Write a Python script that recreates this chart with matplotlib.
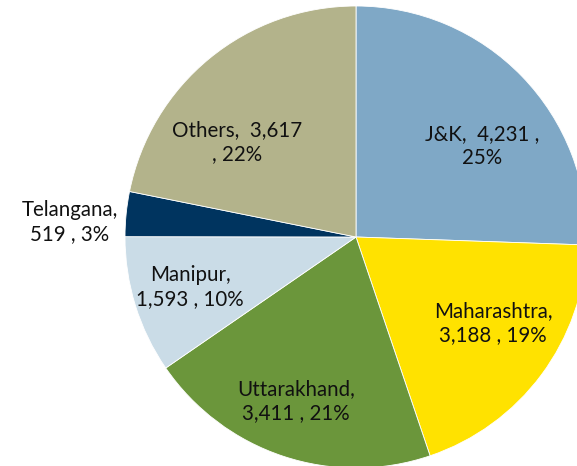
import matplotlib
matplotlib.use("Agg")
import matplotlib.pyplot as plt

states = ["J&K", "Maharashtra", "Uttarakhand", "Manipur", "Telangana", "Others"]
values = [4231, 3188, 3411, 1593, 519, 3617]
percents = ["25%", "19%", "21%", "10%", "3%", "22%"]
colors = ["#7FA8C6", "#FFE200", "#6B963B", "#CADCE7", "#00345F", "#B3B38B"]
label_texts = [
    "J&K,  4,231 ,\n25%",
    "Maharashtra,\n3,188 , 19%",
    "Uttarakhand,\n3,411 , 21%",
    "Manipur,\n1,593 , 10%",
    "Telangana,\n519 , 3%",
    "Others,  3,617\n, 22%",
]
# label centres in pixel coords of the figure
label_px = [(482, 146), (493, 323), (296, 401), (190, 287), (70, 222), (237, 142)]

W, H = 577, 466
fig = plt.figure(figsize=(W / 100, H / 100), dpi=100)
cx, cy, r = 356, 237, 231
ax = fig.add_axes([(cx - r) / W, (H - cy - r) / H, 2 * r / W, 2 * r / H])
ax.pie(values, colors=colors, startangle=90, counterclock=False,
       wedgeprops=dict(edgecolor="white", linewidth=0.6), radius=1.0)
ax.set_xlim(-1, 1)
ax.set_ylim(-1, 1)
ax.set_aspect("equal")
ax.axis("off")

for txt, (px, py) in zip(label_texts, label_px):
    fig.text(px / W, 1 - py / H, txt, ha="center", va="center",
             fontsize=14.8, family=["Lato", "DejaVu Sans"], color="#111111",
             linespacing=1.28)

fig.savefig("out.png", dpi=100)
